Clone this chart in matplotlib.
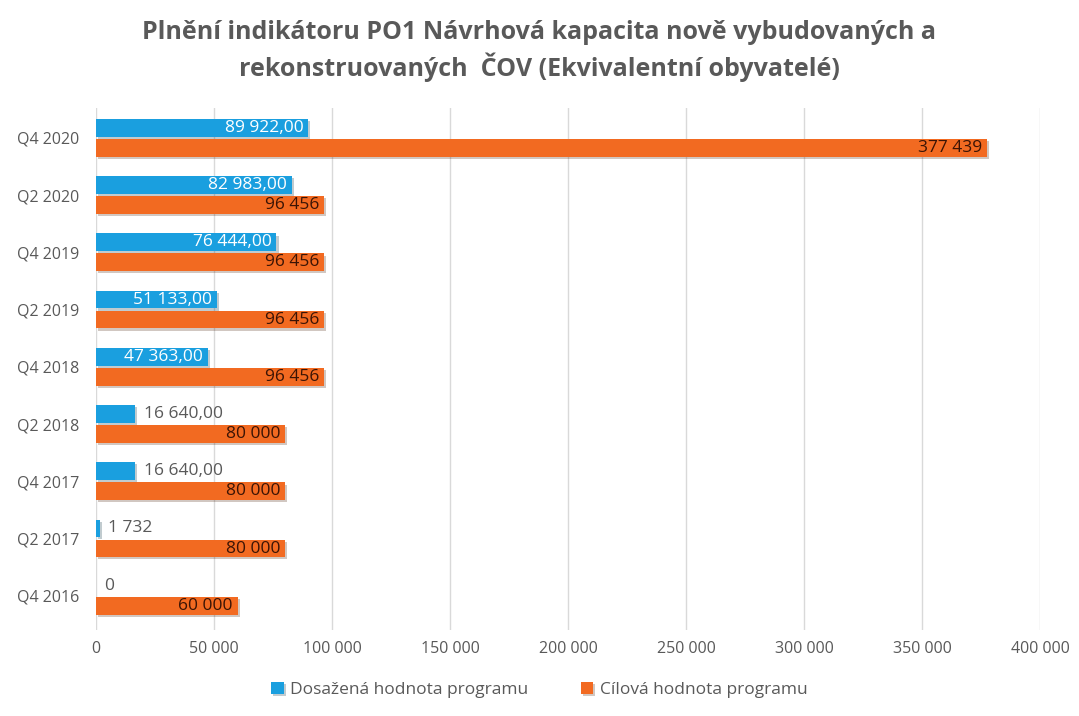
import matplotlib as mpl
mpl.use('Agg')
import matplotlib.pyplot as plt
import matplotlib.patheffects as pe
from matplotlib.ticker import FuncFormatter

plt.rcParams['font.family'] = ['Open Sans', 'DejaVu Sans']

# data, bottom to top as drawn
quarters = ['Q4 2016', 'Q2 2017', 'Q4 2017', 'Q2 2018', 'Q4 2018',
            'Q2 2019', 'Q4 2019', 'Q2 2020', 'Q4 2020']
achieved = [0, 1732, 16640, 16640, 47363, 51133, 76444, 82983, 89922]
achieved_decimals = [0, 0, 2, 2, 2, 2, 2, 2, 2]
target = [60000, 80000, 80000, 80000, 96456, 96456, 96456, 96456, 377439]

BLUE = '#1a9fdf'
ORANGE = '#f26a21'
GREY = '#595959'


def fmt(v, dec=0):
    s = '{:,.{d}f}'.format(v, d=dec).replace(',', ' ').replace('.', ',')
    return s


fig = plt.figure(figsize=(10.79, 7.16), dpi=100)
ax = fig.add_axes([0.089, 0.12, 0.875, 0.729])

y = list(range(len(quarters)))
h = 0.31
off = 0.175
shadow = [pe.SimplePatchShadow(offset=(1.5, -1.5), alpha=0.25), pe.Normal()]

b1 = ax.barh([i + off for i in y], achieved, height=h, color=BLUE,
             label='Dosažená hodnota programu', zorder=3)
b2 = ax.barh([i - off for i in y], target, height=h, color=ORANGE,
             label='Cílová hodnota programu', zorder=3)
for p in list(b1) + list(b2):
    p.set_path_effects(shadow)

for i, (v, d) in enumerate(zip(achieved, achieved_decimals)):
    if v > 40000:
        ax.text(v - 2000, i + off, fmt(v, d), ha='right', va='center',
                color='white', fontsize=12.5, zorder=4)
    else:
        ax.text(v + 3500, i + off, fmt(v, d), ha='left', va='center',
                color=GREY, fontsize=12.5, zorder=4)

for i, v in enumerate(target):
    ax.text(v - 2000, i - off, fmt(v), ha='right', va='center',
            color='#3b1405', fontsize=12.5, zorder=4)

ax.set_xlim(0, 400000)
ax.set_ylim(-0.6, 8.52)
ax.set_xticks(range(0, 400001, 50000))
ax.xaxis.set_major_formatter(FuncFormatter(lambda x, p: fmt(x)))
ax.set_yticks(y)
ax.set_yticklabels(quarters)
ax.tick_params(axis='both', length=0, labelsize=11.5, labelcolor=GREY)
ax.tick_params(axis='x', pad=8)
ax.tick_params(axis='y', pad=12)
for s in ax.spines.values():
    s.set_visible(False)
ax.grid(axis='x', color='#d9d9d9', linewidth=1, zorder=0)
ax.set_axisbelow(True)

fig.suptitle('Plnění indikátoru PO1 Návrhová kapacita nově vybudovaných a\n'
             'rekonstruovaných  ČOV (Ekvivalentní obyvatelé)',
             x=0.5, y=0.972, fontsize=18, fontweight='bold', color=GREY,
             linespacing=1.3)

fig.legend(handles=[b1, b2], loc='center', bbox_to_anchor=(0.5, 0.036),
           ncol=2, frameon=False, fontsize=12.5, labelcolor=GREY,
           handlelength=0.7, handleheight=0.7, columnspacing=3.0,
           handletextpad=0.4)

plt.savefig('out.png', dpi=100)
plt.close()
